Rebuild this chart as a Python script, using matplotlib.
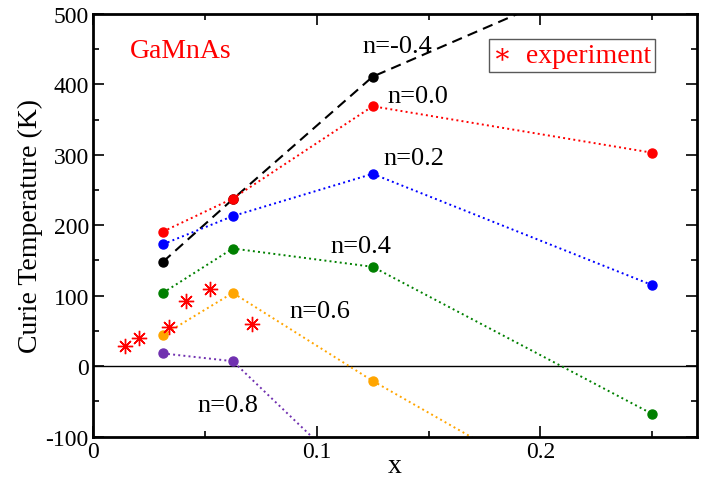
import matplotlib
matplotlib.use("Agg")
import matplotlib.pyplot as plt
from matplotlib.ticker import MultipleLocator

plt.rcParams['font.family'] = ['Liberation Serif', 'DejaVu Serif']
plt.rcParams['axes.unicode_minus'] = False

# Mn concentration
x = [0.03125, 0.0625, 0.125, 0.25]

# Curie temperatures for each n
tc_m04 = [148, 237, 411, 583]
tc_00 = [191, 238, 369, 303]
tc_02 = [173, 213, 273, 115]
tc_04 = [104, 167, 141, -68]
tc_06 = [44, 104, -21, -247]
tc_08 = [18, 7, -183]

# experimental points
x_exp = [0.0143, 0.0207, 0.0341, 0.0416, 0.0523, 0.071]
tc_exp = [29, 40, 56, 93, 109, 60]

fig = plt.figure(figsize=(7.06, 4.81), dpi=100)
ax = fig.add_axes([0.1317, 0.0904, 0.8556, 0.8784])

ax.axhline(0, color='k', lw=1.0)

ms = 6.5
ax.plot(x, tc_m04, 'k--', lw=1.5, dashes=(5, 3), marker='o', ms=ms)
ax.plot(x, tc_00, color='red', ls=':', lw=1.4, marker='o', ms=ms)
ax.plot(x, tc_02, color='blue', ls=':', lw=1.4, marker='o', ms=ms)
ax.plot(x, tc_04, color='green', ls=':', lw=1.4, marker='o', ms=ms)
ax.plot(x, tc_06, color='orange', ls=':', lw=1.4, marker='o', ms=ms)
ax.plot(x[:3], tc_08, color='#7030b0', ls=':', lw=1.4, marker='o', ms=ms)

ax.plot(x_exp, tc_exp, ls='none', marker=(8, 2, 0), ms=11, color='red', mew=1.0)

fs = 19
ax.text(0.0165, 448, 'GaMnAs', color='red', fontsize=20, va='center')
ax.text(0.1205, 455, 'n=-0.4', fontsize=fs, va='center')
ax.text(0.1315, 384, 'n=0.0', fontsize=fs, va='center')
ax.text(0.130, 296, 'n=0.2', fontsize=fs, va='center')
ax.text(0.1063, 171, 'n=0.4', fontsize=fs, va='center')
ax.text(0.0877, 78, 'n=0.6', fontsize=fs, va='center')
ax.text(0.0469, -55, 'n=0.8', fontsize=fs, va='center')

ax.text(0.1788, 441, '∗  experiment', color='red', fontsize=20, va='center',
        bbox=dict(boxstyle='square,pad=0.15', facecolor='white', edgecolor='0.35', lw=1.0))

ax.set_xlim(0, 0.27)
ax.set_ylim(-100, 500)
ax.xaxis.set_major_locator(MultipleLocator(0.1))
ax.xaxis.set_minor_locator(MultipleLocator(0.05))
ax.yaxis.set_major_locator(MultipleLocator(100))
ax.yaxis.set_minor_locator(MultipleLocator(50))
ax.xaxis.set_major_formatter(plt.FuncFormatter(lambda v, p: '0' if abs(v) < 1e-9 else f'{v:g}'))

ax.tick_params(which='both', direction='in', top=True, right=True, labelsize=17, width=1.2)
ax.tick_params(which='major', length=8, pad=3)
ax.tick_params(which='minor', length=4)
for s in ax.spines.values():
    s.set_linewidth(2.0)

ax.set_xlabel('x', fontsize=20, labelpad=-6)
ax.set_ylabel('Curie Temperature (K)', fontsize=20, labelpad=2)

fig.savefig('out.png', dpi=100)
